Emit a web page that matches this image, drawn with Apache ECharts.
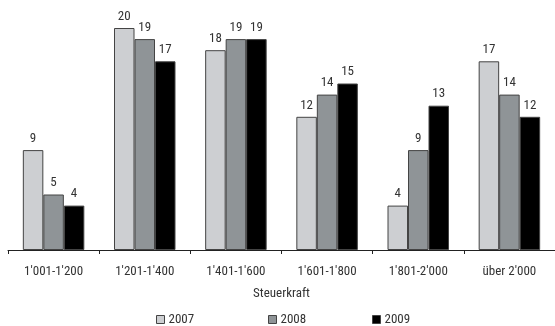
<!DOCTYPE html>
<html>
<head>
<meta charset="utf-8">
<script src="https://cdn.jsdelivr.net/npm/echarts@6/dist/echarts.min.js"></script>
<style>
  html, body { margin: 0; padding: 0; background: #fff; }
  #chart { width: 555px; height: 326px; }
</style>
</head>
<body>
<div id="chart"></div>
<script>
// Steuerkraft classes and yearly counts
const categories = ["1'001-1'200", "1'201-1'400", "1'401-1'600", "1'601-1'800", "1'801-2'000", "über 2'000"];
const years = ['2007', '2008', '2009'];
const values2007 = [9, 20, 18, 12, 4, 17];
const values2008 = [5, 19, 19, 14, 9, 14];
const values2009 = [4, 17, 19, 15, 13, 12];
const axisTitle = 'Steuerkraft';

const FONT = '"Roboto Condensed", "Liberation Sans Narrow", "DejaVu Sans Condensed", Roboto, sans-serif';
const colors = ['#cdcfd2', '#8f9497', '#000000'];
const seriesData = [values2007, values2008, values2009];

const chart = echarts.init(document.getElementById('chart'));

const legendLefts = [156, 268, 372];

chart.setOption({
  animation: false,
  textStyle: { fontFamily: FONT },
  grid: { left: 8, right: -2, top: 28, bottom: 76, containLabel: false },
  legend: years.map((y, i) => ({
    data: [y],
    left: legendLefts[i],
    top: 313,
    padding: 0,
    itemWidth: 8,
    itemHeight: 8,
    itemGap: 4,
    icon: 'rect',
    textStyle: { fontFamily: FONT, fontSize: 13, color: '#333', padding: [0, 0, 0, -1] },
    itemStyle: { borderColor: '#444', borderWidth: 1 }
  })),
  xAxis: {
    type: 'category',
    data: categories,
    name: axisTitle,
    nameLocation: 'middle',
    nameGap: 37,
    nameTextStyle: { fontFamily: FONT, fontSize: 13, color: '#333' },
    axisLine: { lineStyle: { color: '#222', width: 1 } },
    axisTick: { show: true, length: 4, lineStyle: { color: '#222' } },
    axisLabel: { fontFamily: FONT, fontSize: 13, color: '#333', margin: 15 }
  },
  yAxis: {
    type: 'value',
    min: 0,
    max: 20,
    show: false,
    splitLine: { show: false }
  },
  series: years.map((y, i) => ({
    name: y,
    type: 'bar',
    data: seriesData[i],
    barWidth: 20.5,
    barGap: '0%',
    itemStyle: { color: colors[i], borderColor: '#444', borderWidth: 1 },
    label: {
      show: true,
      position: 'top',
      distance: 5,
      fontFamily: FONT,
      fontSize: 13,
      color: '#333'
    }
  }))
});
</script>
</body>
</html>
